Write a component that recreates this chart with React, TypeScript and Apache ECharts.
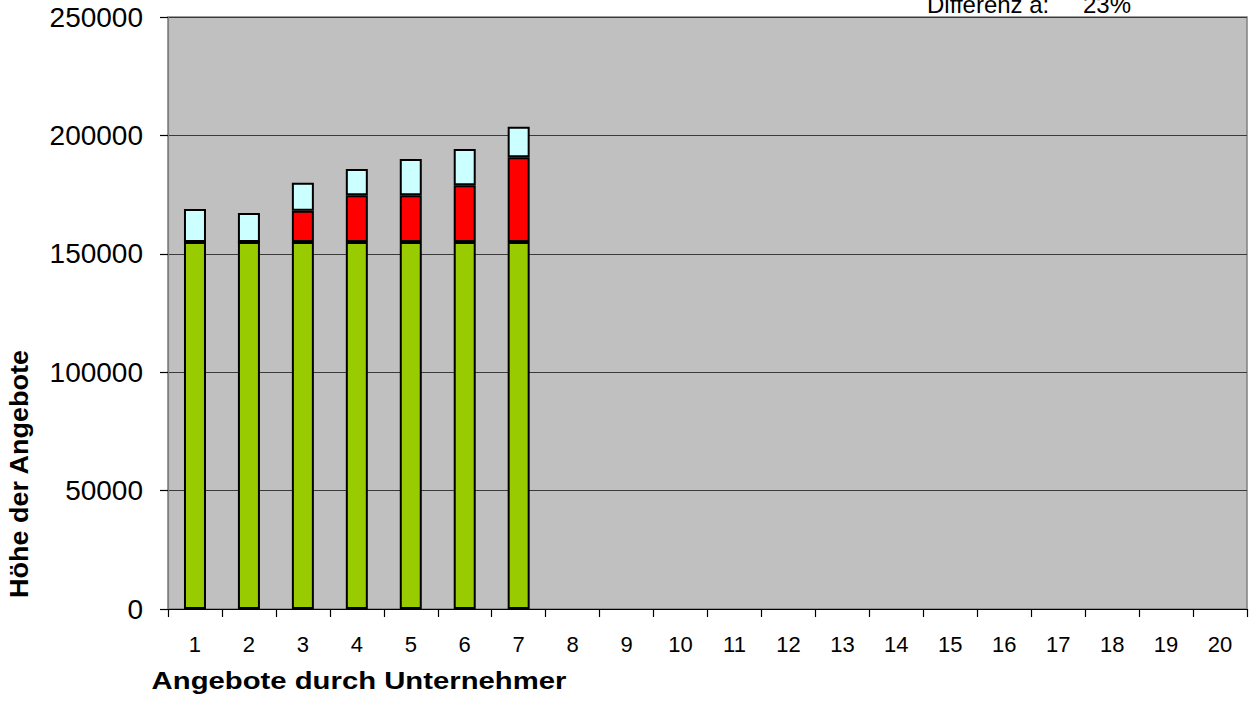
import React, { useEffect, useRef } from "react";
import * as echarts from "echarts";

const categories = ["1","2","3","4","5","6","7","8","9","10","11","12","13","14","15","16","17","18","19","20"];
const baseValues = [155000, 155000, 155000, 155000, 155000, 155000, 155000];
const redValues = [0, 0, 13200, 19700, 19700, 23900, 35750];
const cyanValues = [13900, 12200, 11800, 11100, 15300, 15400, 12950];
const yTicks = { min: 0, max: 250000, interval: 50000 };
const xTitle = "Angebote durch Unternehmer";
const yTitle = "Höhe der Angebote";
const diffLabel = "Differenz a:";
const diffValue = "23%";

const FONT = '"Liberation Sans", Arial, sans-serif';

export default function App() {
  const ref = useRef<HTMLDivElement>(null);
  useEffect(() => {
    if (!ref.current) return;
    const chart = echarts.init(ref.current, null, { renderer: "svg" });
    const barStyle = (color: string) => ({ color, borderColor: "#000", borderWidth: 2 });
    chart.setOption({
      animation: false,
      backgroundColor: "#ffffff",
      textStyle: { fontFamily: FONT },
      grid: {
        left: 168, right: 8, top: 17, bottom: 95,
        show: true, backgroundColor: "#C0C0C0", borderColor: "#808080", borderWidth: 1.5,
        containLabel: false,
      },
      xAxis: {
        type: "category",
        data: categories,
        boundaryGap: true,
        axisLine: { show: true, lineStyle: { color: "#000", width: 1.2 } },
        axisTick: { show: true, alignWithLabel: false, length: 8, lineStyle: { color: "#000", width: 1.2 } },
        axisLabel: { color: "#000", fontSize: 22, fontFamily: FONT, margin: 24, interval: 0 },
        splitLine: { show: false },
      },
      yAxis: {
        type: "value",
        min: yTicks.min, max: yTicks.max, interval: yTicks.interval,
        axisLine: { show: true, lineStyle: { color: "#808080", width: 1.2 } },
        axisTick: { show: true, length: 8, lineStyle: { color: "#000", width: 1.2 } },
        axisLabel: { color: "#000", fontSize: 28, fontFamily: FONT, margin: 25, formatter: (v: number) => String(v) },
        splitLine: { show: true, lineStyle: { color: "#3a3a3a", width: 1 } },
      },
      series: [
        { name: "Basis", type: "bar", stack: "a", data: baseValues, barWidth: 22, itemStyle: barStyle("#99CC00") },
        { name: "Rot", type: "bar", stack: "a", data: redValues, barWidth: 22, itemStyle: barStyle("#FF0000") },
        { name: "Cyan", type: "bar", stack: "a", data: cyanValues, barWidth: 22, itemStyle: barStyle("#CCFFFF") },
      ],
      graphic: [
        {
          type: "text", x: 359, y: 693, scaleX: 1.22,
          style: { text: xTitle, font: `bold 24px ${FONT}`, fill: "#000", textAlign: "center", textVerticalAlign: "bottom" },
        },
        {
          type: "text", x: 32, y: 474, rotation: Math.PI / 2, scaleX: 1.08,
          style: { text: yTitle, font: `bold 25px ${FONT}`, fill: "#000", textAlign: "center", textVerticalAlign: "bottom" },
        },
        {
          type: "text", x: 927, y: 4,
          style: { text: diffLabel, font: `24px ${FONT}`, fill: "#000", textAlign: "left", textVerticalAlign: "middle" },
        },
        {
          type: "text", x: 1083, y: 4,
          style: { text: diffValue, font: `24px ${FONT}`, fill: "#000", textAlign: "left", textVerticalAlign: "middle" },
        },
      ],
    });
    return () => chart.dispose();
  }, []);
  return <div ref={ref} style={{ position: "fixed", left: 0, top: 0, width: 1255, height: 704 }} />;
}
